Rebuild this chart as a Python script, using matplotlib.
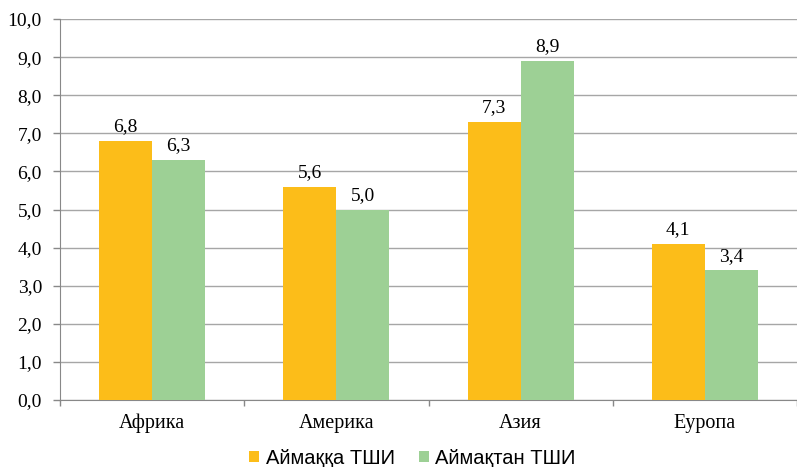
import numpy as np
import matplotlib.pyplot as plt

# --- данные ---
aimaktar = ['Африка', 'Америка', 'Азия', 'Еуропа']
aimakka = [6.8, 5.6, 7.3, 4.1]
aimaktan = [6.3, 5.0, 8.9, 3.4]
seriya_atauy = ['Аймаққа ТШИ', 'Аймақтан ТШИ']

sary = '#FCBD19'
jasyl = '#9DD095'

fig = plt.figure(figsize=(7.97, 4.67), dpi=100)
ax = fig.add_axes([60 / 797, 1 - 400 / 467, 737 / 797, 381 / 467])

x = np.arange(len(aimaktar))
eni = 0.288

b1 = ax.bar(x - eni / 2, aimakka, width=eni, color=sary, label=seriya_atauy[0], zorder=3)
b2 = ax.bar(x + eni / 2, aimaktan, width=eni, color=jasyl, label=seriya_atauy[1], zorder=3)

serif = 'Liberation Serif'
for bars in (b1, b2):
    for r in bars:
        v = r.get_height()
        ax.annotate(f'{v:.1f}'.replace('.', ','), (r.get_x() + r.get_width() / 2, v),
                    xytext=(0, 4), textcoords='offset points', ha='center', va='bottom',
                    fontsize=14, family=serif)

ax.set_xlim(-0.5, len(aimaktar) - 0.5)
ax.set_ylim(0, 10)
ax.set_yticks(np.arange(0, 10.1, 1))
ax.set_yticklabels([f'{t:.1f}'.replace('.', ',') for t in np.arange(0, 10.1, 1)],
                   family=serif, fontsize=14)

# категория шекарасындағы белгілер
ax.set_xticks(np.arange(-0.5, len(aimaktar), 1))
ax.set_xticklabels([])
ax.set_xticks(x, minor=True)
ax.set_xticklabels(aimaktar, minor=True, family=serif, fontsize=14.5)
ax.tick_params(axis='x', which='major', length=4, color='#888888', width=1)
ax.tick_params(axis='x', which='minor', length=0, pad=10)
ax.tick_params(axis='y', length=5, color='#888888', width=1, pad=8)

ax.grid(axis='y', color='#A6A6A6', linewidth=1, zorder=0)
for s in ['top', 'right']:
    ax.spines[s].set_visible(False)
for s in ['left', 'bottom']:
    ax.spines[s].set_color('#888888')

ax.legend(loc='center', bbox_to_anchor=(0.478, -58 / 381), ncol=2, frameon=False,
          prop={'family': 'Liberation Sans', 'size': 14.5}, handlelength=0.5,
          handleheight=0.5, handletextpad=0.3, columnspacing=1.2)

fig.savefig('out.png', dpi=100)
